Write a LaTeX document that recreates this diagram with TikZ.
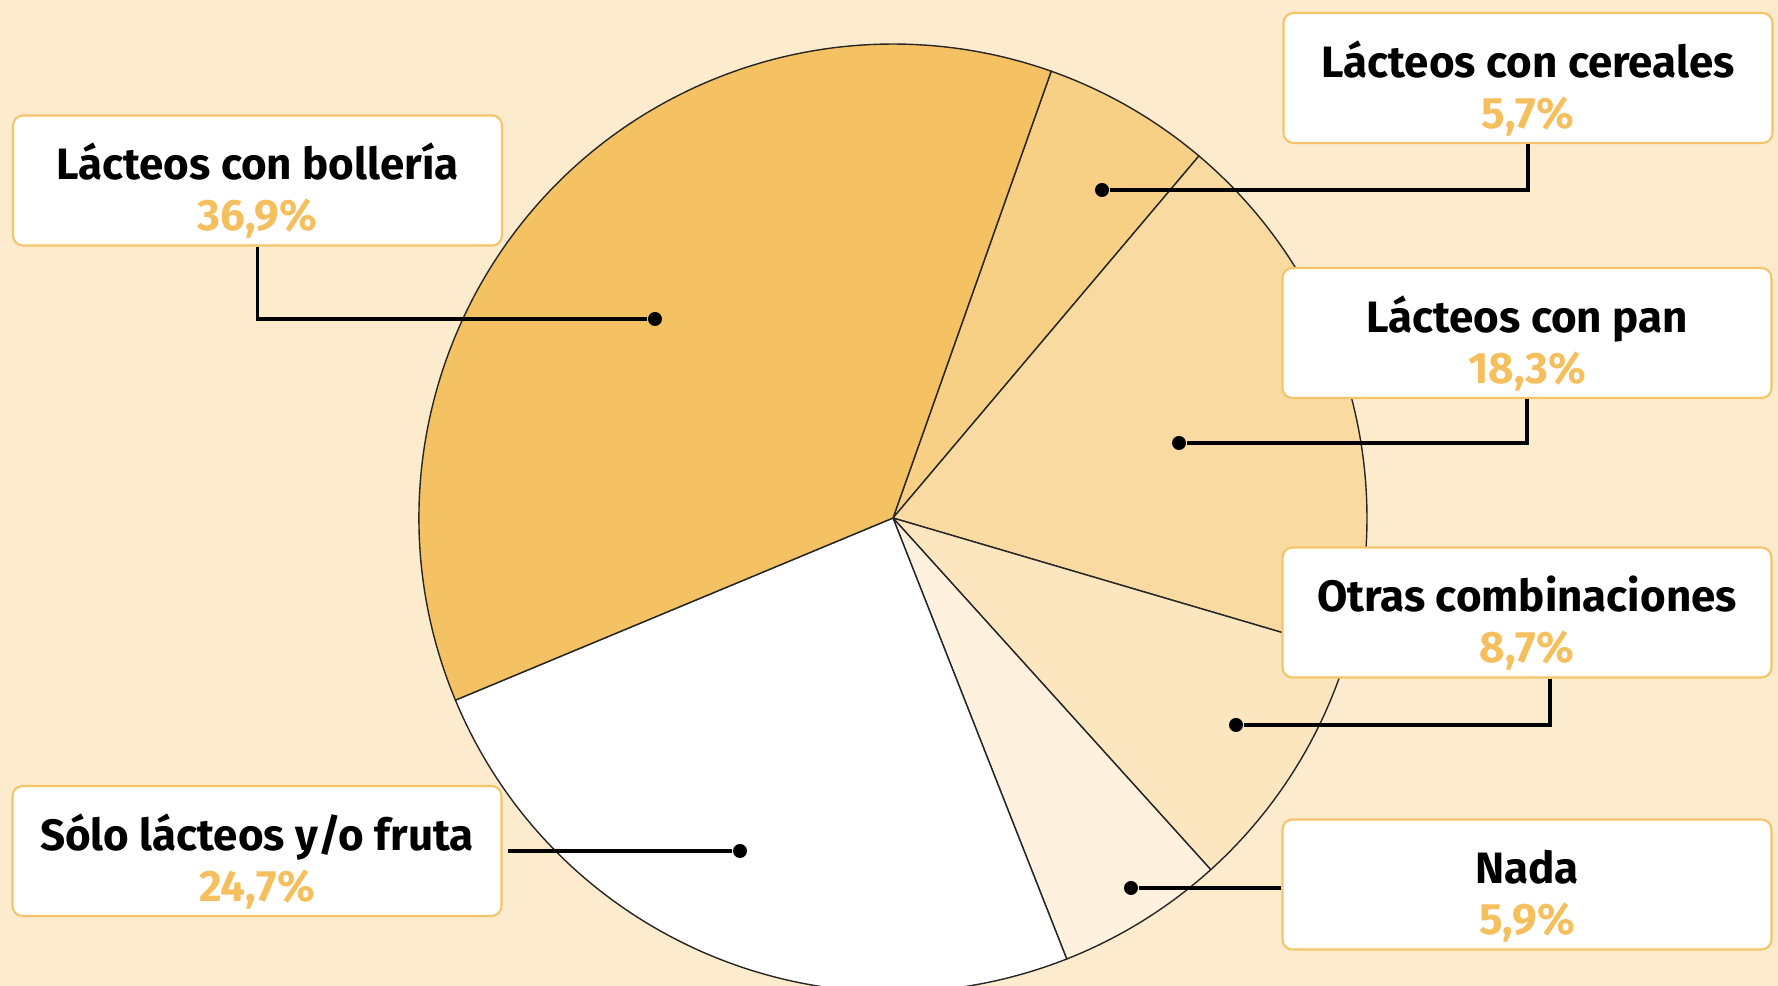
\documentclass[tikz,border=0pt]{standalone}
\usepackage{fontspec}
\setmainfont{Fira Sans}
\usepackage{tikz}
\usetikzlibrary{positioning}
\definecolor{fondo}{HTML}{FDEBCD}
\definecolor{bolleria}{HTML}{F5C263}
\definecolor{cereales}{HTML}{F7CF85}
\definecolor{pan}{HTML}{F9DBA2}
\definecolor{otras}{HTML}{FCE6BF}
\definecolor{nada}{HTML}{FEF1DE}
\definecolor{naranja}{HTML}{F5BF5E}
\definecolor{borde}{HTML}{F5C468}
\tikzset{
  etiqueta/.style={draw=borde, line width=0.6pt, fill=white, rounded corners=1mm,
    minimum width=48.9mm, minimum height=13mm, align=center, inner sep=0pt,
    font=\bfseries\fontsize{12.5}{14.5}\selectfont},
  punto/.style={circle, fill=black, inner sep=0pt, minimum size=1.4mm},
  guia/.style={line width=0.9pt},
}
\newcommand{\pct}[1]{\textcolor{naranja}{#1}}
\newcommand{\alto}{\rule{0pt}{5.7mm}}

\begin{document}
\begin{tikzpicture}[x=0.1mm, y=0.1mm]
		\useasboundingbox (0,0) rectangle (1778,986);
		\fill[fondo] (0,0) rectangle (1778,986);
		\coordinate (c) at (893,468);
		\begin{scope}
		\clip (0,0) rectangle (1778,986);
		\foreach \a/\b/\col in {70.5/49.8/cereales, 49.8/-16.4/pan, -16.4/-47.9/otras,
		  -47.9/-68.5/nada, -68.5/-157.4/white, -157.4/-289.5/bolleria}
		  \filldraw[fill=\col, draw=black!85, line width=0.4pt]
		    (c) -- ++(\a:474) arc (\a:\b:474) -- cycle;
		\end{scope}
		% cajas
		\node (boll) [etiqueta] at (257.5,805.5) {\alto Lácteos con bollería\\\pct{36,9\%}};
		\node (cere) [etiqueta] at (1528,908) {\alto Lácteos con cereales\\\pct{5,7\%}};
		\node (pan) [etiqueta] at (1527,653) {\alto Lácteos con pan\\\pct{18,3\%}};
		\node (otras) [etiqueta] at (1527,373.5) {\alto Otras combinaciones\\\pct{8,7\%}};
		\node (nada) [etiqueta] at (1527,101.5) {\alto Nada\\\pct{5,9\%}};
		\node (solo) [etiqueta] at (257,135) {\alto Sólo lácteos y/o fruta\\\pct{24,7\%}};
		% puntos
		\node (bollp) [punto] at (655,667) {};
		\node (cerep) [punto] at (1102,796) {};
		\node (panp) [punto] at (1179,543) {};
		\node (otrasp) [punto] at (1236,261) {};
		\node (nadap) [punto] at (1131,98) {};
		\node (solop) [punto] at (740,135) {};
		\draw[guia] (boll.south) |- (bollp);
		\draw[guia] (cere.south) |- (cerep);
		\draw[guia] (pan.south) |- (panp);
		\draw[guia] ([xshift=2.3mm]otras.south) |- (otrasp);
		\draw[guia] (nada.west |- nadap) -- (nadap);
		\draw[guia] ([xshift=0.5mm]solo.east) -- (solop);
\end{tikzpicture}
\end{document}
